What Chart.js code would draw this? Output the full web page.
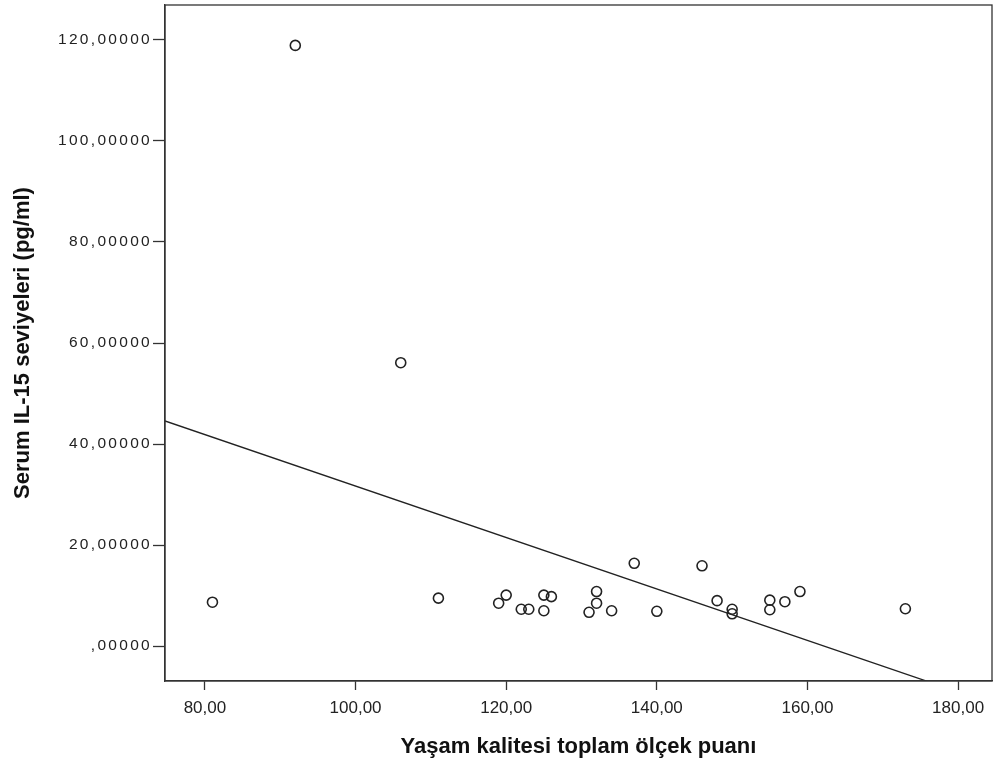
<!DOCTYPE html>
<html>
<head>
<meta charset="utf-8">
<script src="https://cdn.jsdelivr.net/npm/chart.js@4.4.1/dist/chart.umd.min.js"></script>
<style>
  body { margin: 0; background: #fff; }
  #wrap { width: 993px; height: 762px; }
</style>
</head>
<body>
<div id="wrap"><canvas id="chart1"></canvas></div>
<script>
// quality of life score vs serum IL-15
const xValues = [81, 92, 106, 111, 119, 120, 122, 123, 125, 126, 125, 132, 132, 131, 134, 140, 137, 146, 148, 150, 150, 155, 155, 157, 159, 173];
const yValues = [8.7, 118.9, 56.1, 9.5, 8.5, 10.1, 7.3, 7.3, 10.1, 9.8, 7.0, 10.8, 8.5, 6.7, 7.0, 6.9, 16.4, 15.9, 9.0, 7.3, 6.4, 9.1, 7.2, 8.8, 10.8, 7.4];
const xTicks = [80, 100, 120, 140, 160, 180];
const yTicks = [0, 20, 40, 60, 80, 100, 120];

const xMin = 74.7, xMax = 184.5;
const yMin = -6.9, yMax = 126.9;

// least squares fit line
const n = xValues.length;
const mx = xValues.reduce((a, b) => a + b, 0) / n;
const my = yValues.reduce((a, b) => a + b, 0) / n;
let sxy = 0, sxx = 0;
for (let i = 0; i < n; i++) {
    sxy += (xValues[i] - mx) * (yValues[i] - my);
    sxx += (xValues[i] - mx) * (xValues[i] - mx);
}
const slope = sxy / sxx;
const icpt = my - slope * mx;
const fitLine = [xMin, xMax].map(x => ({ x: x, y: icpt + slope * x }));

const points = xValues.map((x, i) => ({ x: x, y: yValues[i] }));

const fmtY = v => {
    const s = v.toFixed(5).replace('.', ',');
    return s.startsWith('0,') ? s.slice(1) : s;
};

const framePlugin = {
    id: 'frame',
    afterLayout(chart) {
        const ys = chart.scales.y;
        if (!ys._spaced) {
            const orig = ys.drawLabels.bind(ys);
            ys.drawLabels = function (area) {
                const ctx = this.ctx;
                ctx.save();
                ctx.letterSpacing = '2.3px';
                orig(area);
                ctx.restore();
                ctx.letterSpacing = '0px';
            };
            ys._spaced = true;
        }
    },
    afterDraw(chart) {
        const a = chart.chartArea;
        const ctx = chart.ctx;
        ctx.save();
        ctx.strokeStyle = '#333';
        ctx.lineWidth = 1.3;
        ctx.strokeRect(a.left, a.top, a.right - a.left, a.bottom - a.top);
        ctx.restore();
    }
};

new Chart("chart1", {
    type: "scatter",
    data: {
        datasets: [{
            data: points,
            pointStyle: 'circle',
            pointRadius: 5,
            pointHoverRadius: 5,
            backgroundColor: 'rgba(0,0,0,0)',
            borderColor: '#222',
            borderWidth: 1.6
        }, {
            type: 'line',
            data: fitLine,
            borderColor: '#222',
            borderWidth: 1.3,
            pointRadius: 0,
            fill: false
        }]
    },
    options: {
        responsive: true,
        maintainAspectRatio: false,
        animation: false,
        layout: { autoPadding: false, padding: { left: 10, top: 5, right: 1, bottom: 2 } },
        plugins: {
            legend: { display: false },
            tooltip: { enabled: false }
        },
        scales: {
            x: {
                type: 'linear',
                min: xMin,
                max: xMax,
                afterFit(s) { s.height = 79; s.paddingLeft = 0; s.paddingRight = 0; },
                afterBuildTicks(s) { s.ticks = xTicks.map(v => ({ value: v })); },
                grid: { drawOnChartArea: false, drawTicks: true, tickLength: 9, tickColor: '#333', tickWidth: 1.3 },
                border: { color: '#333', width: 1.3 },
                ticks: {
                    color: '#222',
                    padding: 8,
                    font: { family: "'Liberation Sans', Arial", size: 17 },
                    callback: v => v.toFixed(2).replace('.', ',')
                },
                title: {
                    display: true,
                    text: 'Yaşam kalitesi toplam ölçek puanı',
                    color: '#111',
                    padding: 0,
                    font: { family: "'Liberation Sans', Arial", size: 22, weight: 'bold' }
                }
            },
            y: {
                min: yMin,
                max: yMax,
                afterFit(s) { s.width = 155; s.paddingTop = 0; s.paddingBottom = 0; },
                afterBuildTicks(s) { s.ticks = yTicks.map(v => ({ value: v })); },
                grid: { drawOnChartArea: false, drawTicks: true, tickLength: 12, tickColor: '#333', tickWidth: 1.3 },
                border: { color: '#333', width: 1.3 },
                ticks: {
                    color: '#222',
                    padding: 1,
                    font: { family: "'Liberation Sans', Arial", size: 15.5 },
                    callback: v => fmtY(v)
                },
                title: {
                    display: true,
                    text: 'Serum IL-15 seviyeleri (pg/ml)',
                    color: '#111',
                    padding: 0,
                    font: { family: "'Liberation Sans', Arial", size: 22, weight: 'bold' }
                }
            }
        }
    },
    plugins: [framePlugin]
});
</script>
</body>
</html>
